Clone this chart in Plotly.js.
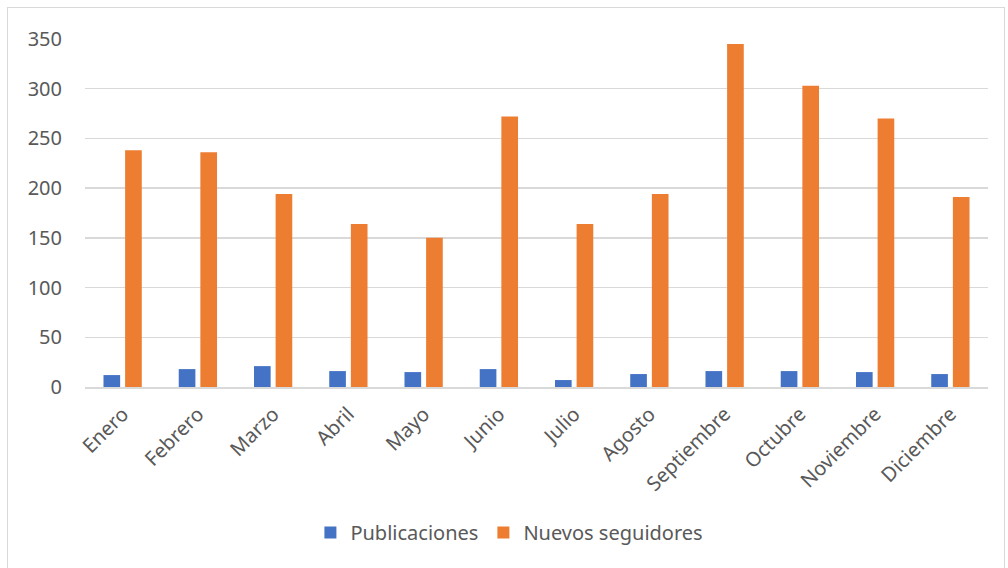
<!DOCTYPE html>
<html>
<head>
<meta charset="utf-8">
<script src="https://cdn.plot.ly/plotly-3.0.1.min.js"></script>
<style>
  html, body { margin: 0; padding: 0; background: #ffffff; overflow: hidden; }
  #frame { position: absolute; left: 7px; top: 7px; width: 998px; height: 600px; border: 1px solid #d9d9d9; box-sizing: border-box; }
  #chart { position: absolute; left: 0; top: 0; width: 1008px; height: 568px; }
</style>
</head>
<body>
<div id="frame"></div>
<div id="chart"></div>
<script>
// Monthly activity: posts published and new followers gained
const months = ["Enero", "Febrero", "Marzo", "Abril", "Mayo", "Junio", "Julio",
                "Agosto", "Septiembre", "Octubre", "Noviembre", "Diciembre"];
const publicaciones = [12, 18, 21, 16, 15, 18, 7, 13, 16, 16, 15, 13];
const nuevosSeguidores = [238, 236, 194, 164, 150, 272, 164, 194, 345, 303, 270, 191];
const yTicks = [0, 50, 100, 150, 200, 250, 300, 350];

const font = "'Noto Sans', 'Open Sans', sans-serif";
const textColor = "#595959";

const traces = [
  {
    type: "bar", name: "Publicaciones", x: months, y: publicaciones,
    marker: { color: "#4472c4" }, hoverinfo: "x+y"
  },
  {
    type: "bar", name: "Nuevos seguidores", x: months, y: nuevosSeguidores,
    marker: { color: "#ed7d31" }, hoverinfo: "x+y"
  }
];

const layout = {
  width: 1008, height: 568,
  margin: { l: 85, r: 20, t: 39, b: 181, pad: 0 },
  paper_bgcolor: "rgba(0,0,0,0)",
  plot_bgcolor: "rgba(0,0,0,0)",
  barmode: "group",
  bargap: 0.425,
  bargroupgap: 0.23,
  font: { family: font, size: 20, color: textColor },
  showlegend: true,
  legend: {
    orientation: "h", x: 0.47, xanchor: "center", y: -0.418, yanchor: "middle",
    font: { family: font, size: 20, color: textColor },
    itemwidth: 30, traceorder: "normal"
  },
  xaxis: {
    type: "category",
    tickangle: -45,
    showgrid: false,
    showline: true, linecolor: "#d9d9d9", linewidth: 1.5,
    ticks: "", ticklabelstandoff: 6,
    tickfont: { family: font, size: 20, color: textColor },
    fixedrange: true
  },
  yaxis: {
    range: [0, 350],
    tickvals: yTicks,
    ticktext: yTicks.map(String),
    showgrid: true, gridcolor: "#d9d9d9", gridwidth: 1.5,
    zeroline: false,
    showline: false,
    ticks: "", ticklabelstandoff: 22,
    tickfont: { family: font, size: 20, color: textColor },
    fixedrange: true
  }
};

Plotly.newPlot("chart", traces, layout, { displayModeBar: false, staticPlot: true });
</script>
</body>
</html>
